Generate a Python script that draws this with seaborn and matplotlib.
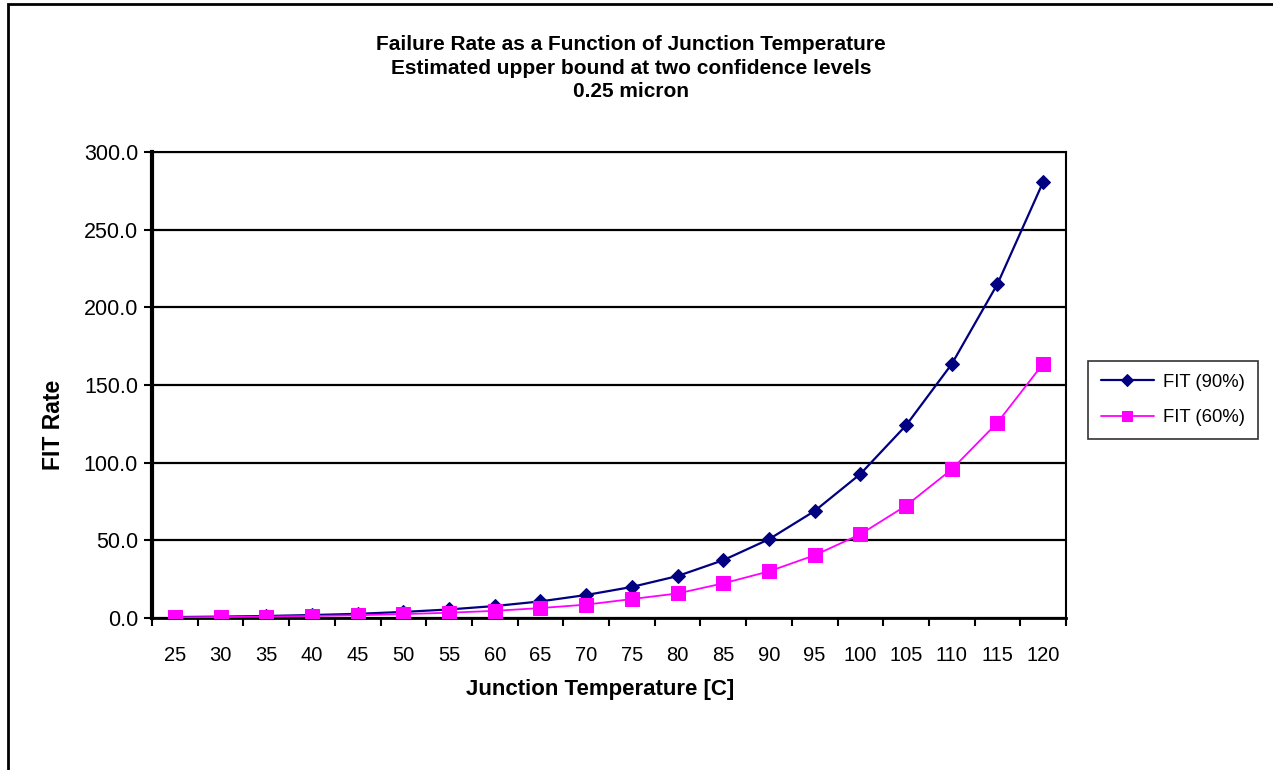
import matplotlib
matplotlib.use("Agg")
import matplotlib.pyplot as plt
import seaborn as sns
import pandas as pd
import numpy as np
from matplotlib.ticker import FixedLocator, FormatStrFormatter
from matplotlib.patches import Rectangle

temps = [25, 30, 35, 40, 45, 50, 55, 60, 65, 70, 75, 80, 85, 90, 95, 100, 105, 110, 115, 120]
fit90 = [0.6, 0.9, 1.3, 1.9, 2.7, 3.9, 5.5, 7.7, 10.7, 14.8, 20.0, 27.0, 37.2, 50.7, 68.9, 92.7, 124.0, 163.5, 215.0, 280.7]
fit60 = [0.4, 0.6, 0.9, 1.3, 1.8, 2.5, 3.4, 4.6, 6.4, 8.6, 12.2, 15.8, 22.3, 30.0, 40.4, 53.9, 72.3, 95.7, 125.8, 163.7]
series_names = ["FIT (90%)", "FIT (60%)"]
title_lines = ["Failure Rate as a Function of Junction Temperature",
               "Estimated upper bound at two confidence levels",
               "0.25 micron"]
yticks = [0, 50, 100, 150, 200, 250, 300]

sns.set_style("white")
plt.rcParams['font.family'] = ['Liberation Sans', 'DejaVu Sans']
plt.rcParams['text.color'] = 'black'
plt.rcParams['axes.labelcolor'] = 'black'
plt.rcParams['xtick.color'] = 'black'
plt.rcParams['ytick.color'] = 'black'

W, H = 1273, 770
fig = plt.figure(figsize=(W / 100, H / 100), dpi=100)
ax = fig.add_axes([152 / W, 1 - 618 / H, (1066 - 152) / W, (618 - 152) / H])

df = pd.DataFrame({
    "pos": list(range(len(temps))) * 2,
    "val": fit90 + fit60,
    "series": [series_names[0]] * len(temps) + [series_names[1]] * len(temps),
})

sns.lineplot(data=df[df.series == series_names[0]], x="pos", y="val", ax=ax,
             color="#000080", lw=1.6, marker="D", markersize=7.5,
             markeredgecolor="#000080", label=series_names[0], zorder=4)
sns.lineplot(data=df[df.series == series_names[1]], x="pos", y="val", ax=ax,
             color="#FF00FF", lw=1.3, marker="s", markersize=10.5,
             markeredgecolor="#FF00FF", label=series_names[1], zorder=5)

ax.set_xlim(-0.5, len(temps) - 0.5)
ax.set_ylim(0, 300)
ax.set_xticks(range(len(temps)))
ax.set_xticklabels([str(t) for t in temps])
ax.xaxis.set_minor_locator(FixedLocator(np.arange(-0.5, len(temps), 1.0)))
ax.tick_params(axis="x", which="major", length=0, pad=20, labelsize=14.5)
ax.tick_params(axis="x", which="minor", length=6, width=1.5, direction="out", color="black", bottom=True)
ax.set_yticks(yticks)
ax.yaxis.set_major_formatter(FormatStrFormatter("%.1f"))
ax.tick_params(axis="y", which="major", length=6, width=1.5, direction="out", color="black", pad=4, labelsize=15.5, left=True)

ax.grid(axis="y", color="black", lw=1.6)
ax.grid(axis="x", visible=False)
for side, lw in [("left", 3.0), ("bottom", 2.0), ("top", 1.5), ("right", 1.5)]:
    ax.spines[side].set_visible(True)
    ax.spines[side].set_color("black")
    ax.spines[side].set_linewidth(lw)

ax.set_xlabel("Junction Temperature [C]", fontsize=16, fontweight="bold")
ax.set_ylabel("FIT Rate", fontsize=16.5, fontweight="bold")
ax.xaxis.set_label_coords((600 - 152) / 914, (618 - 690) / 466)
ax.xaxis.label.set_va("center")
ax.yaxis.set_label_coords((54 - 152) / 914, (618 - 425) / 466)
ax.yaxis.label.set_va("center")

fig.text(631 / W, 1 - 68 / H, "\n".join(title_lines), ha="center", va="center",
         fontsize=15, fontweight="bold", linespacing=1.28)

leg = ax.legend(loc="upper left", bbox_to_anchor=(1088 / W, 1 - 361 / H),
                bbox_transform=fig.transFigure, fontsize=13.3, frameon=True,
                fancybox=False, edgecolor="black", handlelength=2.9,
                borderpad=0.68, labelspacing=1.02, handletextpad=0.5, borderaxespad=0)
leg.get_frame().set_linewidth(1.2)
for h in leg.legend_handles:
    h.set_markersize(h.get_markersize() * 0.75)

fig.patches.append(Rectangle((8 / W, -0.1), 1.2, 1 - 4 / H + 0.1, transform=fig.transFigure,
                             fill=False, edgecolor="black", lw=2, figure=fig))

fig.savefig("out.png", dpi=100)
